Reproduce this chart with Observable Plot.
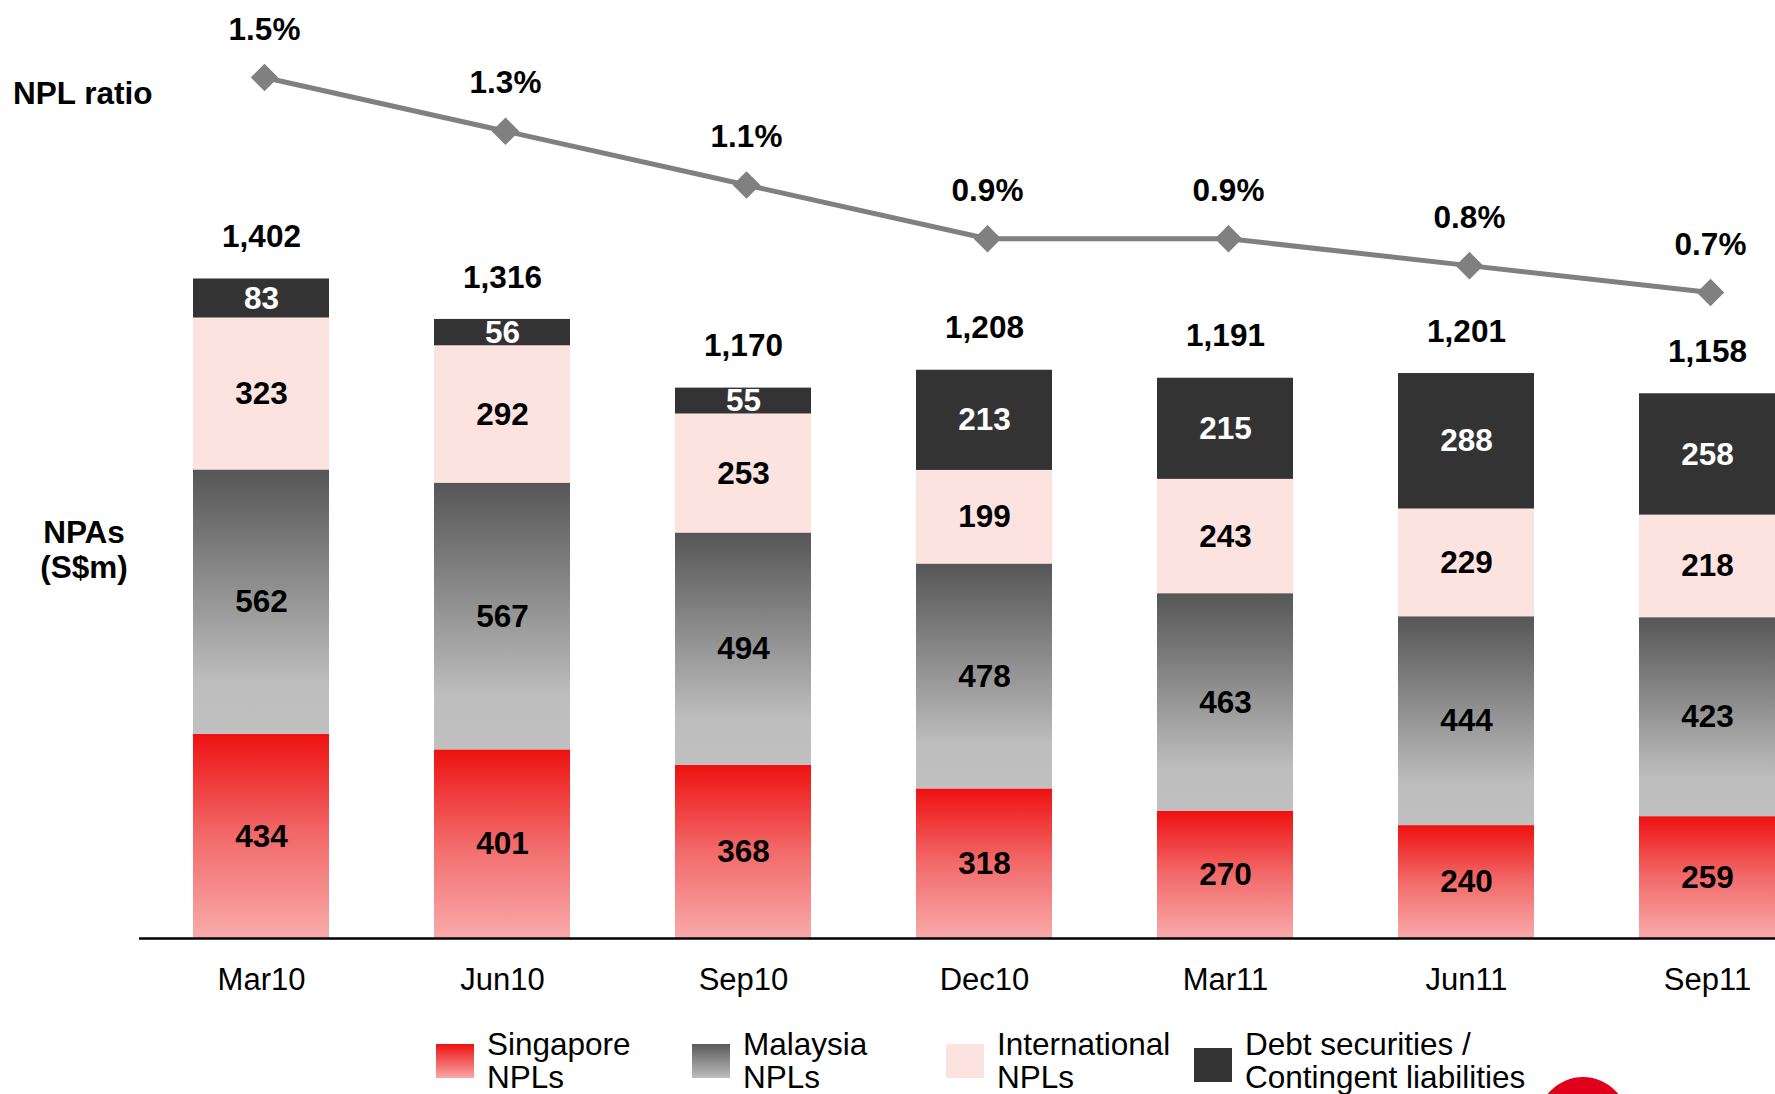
<!DOCTYPE html>
<html><head><meta charset="utf-8">
<script src="https://cdn.jsdelivr.net/npm/d3@7"></script>
<script src="https://cdn.jsdelivr.net/npm/@observablehq/plot@0.6"></script>
<style>
html,body{margin:0;padding:0;background:#fff;overflow:hidden}
#wrap{position:relative;width:1775px;height:1094px;font-family:"Liberation Sans",Arial,sans-serif;color:#000}
#bars,#line{position:absolute;left:0;top:0}
.lab{position:absolute;font-weight:bold;font-size:31.5px;line-height:35px;text-align:center}
.sw{position:absolute;width:38px;height:34px}
.lt{position:absolute;font-size:31.5px;line-height:33px;white-space:nowrap}
#logo{position:absolute;left:1538px;top:1077px;width:90px;height:90px;border-radius:50%;background:#e0001b;overflow:hidden}
</style></head><body>
<div id="wrap">
  <div id="bars"></div>
  <div id="line"></div>
  <div class="lab" style="left:13px;top:76px;text-align:left;">NPL ratio</div>
  <div class="lab" style="left:14px;top:515px;width:140px;">NPAs<br>(S$m)</div>
  <div class="sw" style="left:436px;top:1044px;background:linear-gradient(#ee1111,#f8a8a8)"></div>
  <div class="lt" style="left:487px;top:1028px;">Singapore<br>NPLs</div>
  <div class="sw" style="left:692px;top:1044px;background:linear-gradient(#5a5a5a,#bdbdbd)"></div>
  <div class="lt" style="left:743px;top:1028px;">Malaysia<br>NPLs</div>
  <div class="sw" style="left:946px;top:1044px;background:#fde3e0"></div>
  <div class="lt" style="left:997px;top:1028px;">International<br>NPLs</div>
  <div class="sw" style="left:1194px;top:1048px;background:#333333"></div>
  <div class="lt" style="left:1245px;top:1028px;">Debt securities /<br>Contingent liabilities</div>
  <div id="logo"></div>
</div>
<script>
const periods = ["Mar10","Jun10","Sep10","Dec10","Mar11","Jun11","Sep11"];
const singaporeNPLs = [434, 401, 368, 318, 270, 240, 259];
const malaysiaNPLs = [562, 567, 494, 478, 463, 444, 423];
const internationalNPLs = [323, 292, 253, 199, 243, 229, 218];
const debtContingent = [83, 56, 55, 213, 215, 288, 258];
const totals = [1402, 1316, 1170, 1208, 1191, 1201, 1158];
const nplRatio = [1.5, 1.3, 1.1, 0.9, 0.9, 0.8, 0.7];

const seriesNames = ["Singapore NPLs","Malaysia NPLs","International NPLs","Debt securities / Contingent liabilities"];
const seriesValues = [singaporeNPLs, malaysiaNPLs, internationalNPLs, debtContingent];
const seriesFill = ["url(#gRed)","url(#gGray)","#fde3e0","#333333"];
const seriesText = ["black","black","black","white"];

const rows = [];
seriesNames.forEach((s, k) => periods.forEach((p, i) => rows.push({period: p, series: s, value: seriesValues[k][i], fill: seriesFill[k], tcol: seriesText[k]})));
const totalRows = periods.map((p, i) => ({period: p, total: totals[i]}));
const ratioRows = periods.map((p, i) => ({period: p, ratio: nplRatio[i]}));

const xScale = {type: "band", domain: periods, range: [119.6, 1848.3], paddingInner: 0.436, paddingOuter: 0.3, align: 0.5};
const font = "'Liberation Sans', Arial, sans-serif";

const bars = Plot.plot({
  width: 1775, height: 1010,
  marginLeft: 139, marginRight: 0, marginTop: 0, marginBottom: 72,
  style: {background: "transparent", fontFamily: font, fontSize: "31px", color: "black", overflow: "visible"},
  x: {...xScale, tickSize: 0, tickPadding: 29, label: null},
  y: {domain: [0, 1994], axis: null},
  color: {type: "identity"},
  marks: [
    Plot.barY(rows, {x: "period", y: "value", fill: "fill"}),
    Plot.text(rows, Plot.stackY({x: "period", y: "value", text: d => d.value, fill: "tcol", fontSize: 31.5, fontWeight: "bold"})),
    Plot.text(totalRows, {x: "period", y: "total", text: d => d3.format(",")(d.total), dy: -42, fontSize: 31.5, fontWeight: "bold", fill: "black"}),
    Plot.ruleY([0], {stroke: "black", strokeWidth: 2.5})
  ]
});
d3.select(bars).insert("defs", ":first-child").html(
  '<linearGradient id="gRed" x1="0" y1="0" x2="0" y2="1"><stop offset="0" stop-color="#ee1111"/><stop offset="0.5" stop-color="#f26a6a"/><stop offset="1" stop-color="#f9aaaa"/></linearGradient>' +
  '<linearGradient id="gGray" x1="0" y1="0" x2="0" y2="1"><stop offset="0" stop-color="#565656"/><stop offset="0.8" stop-color="#bdbdbd"/><stop offset="1" stop-color="#c0c0c0"/></linearGradient>'
);
document.getElementById("bars").appendChild(bars);

const line = Plot.plot({
  width: 1775, height: 330,
  marginLeft: 139, marginRight: 0, marginTop: 0, marginBottom: 0,
  style: {background: "transparent", fontFamily: font, overflow: "visible"},
  x: {...xScale, axis: null},
  y: {domain: [0.7, 1.5], range: [292, 77], axis: null},
  marks: [
    Plot.line(ratioRows, {x: "period", y: "ratio", stroke: "#808080", strokeWidth: 5, dx: 3}),
    Plot.dot(ratioRows, {x: "period", y: "ratio", symbol: "square", r: 11, rotate: 45, fill: "#808080", dx: 3}),
    Plot.text(ratioRows, {x: "period", y: "ratio", text: d => d.ratio.toFixed(1) + "%", dy: -48, dx: 3, fontSize: 31.5, fontWeight: "bold", fill: "black"})
  ]
});
document.getElementById("line").appendChild(line);
</script>
</body></html>
